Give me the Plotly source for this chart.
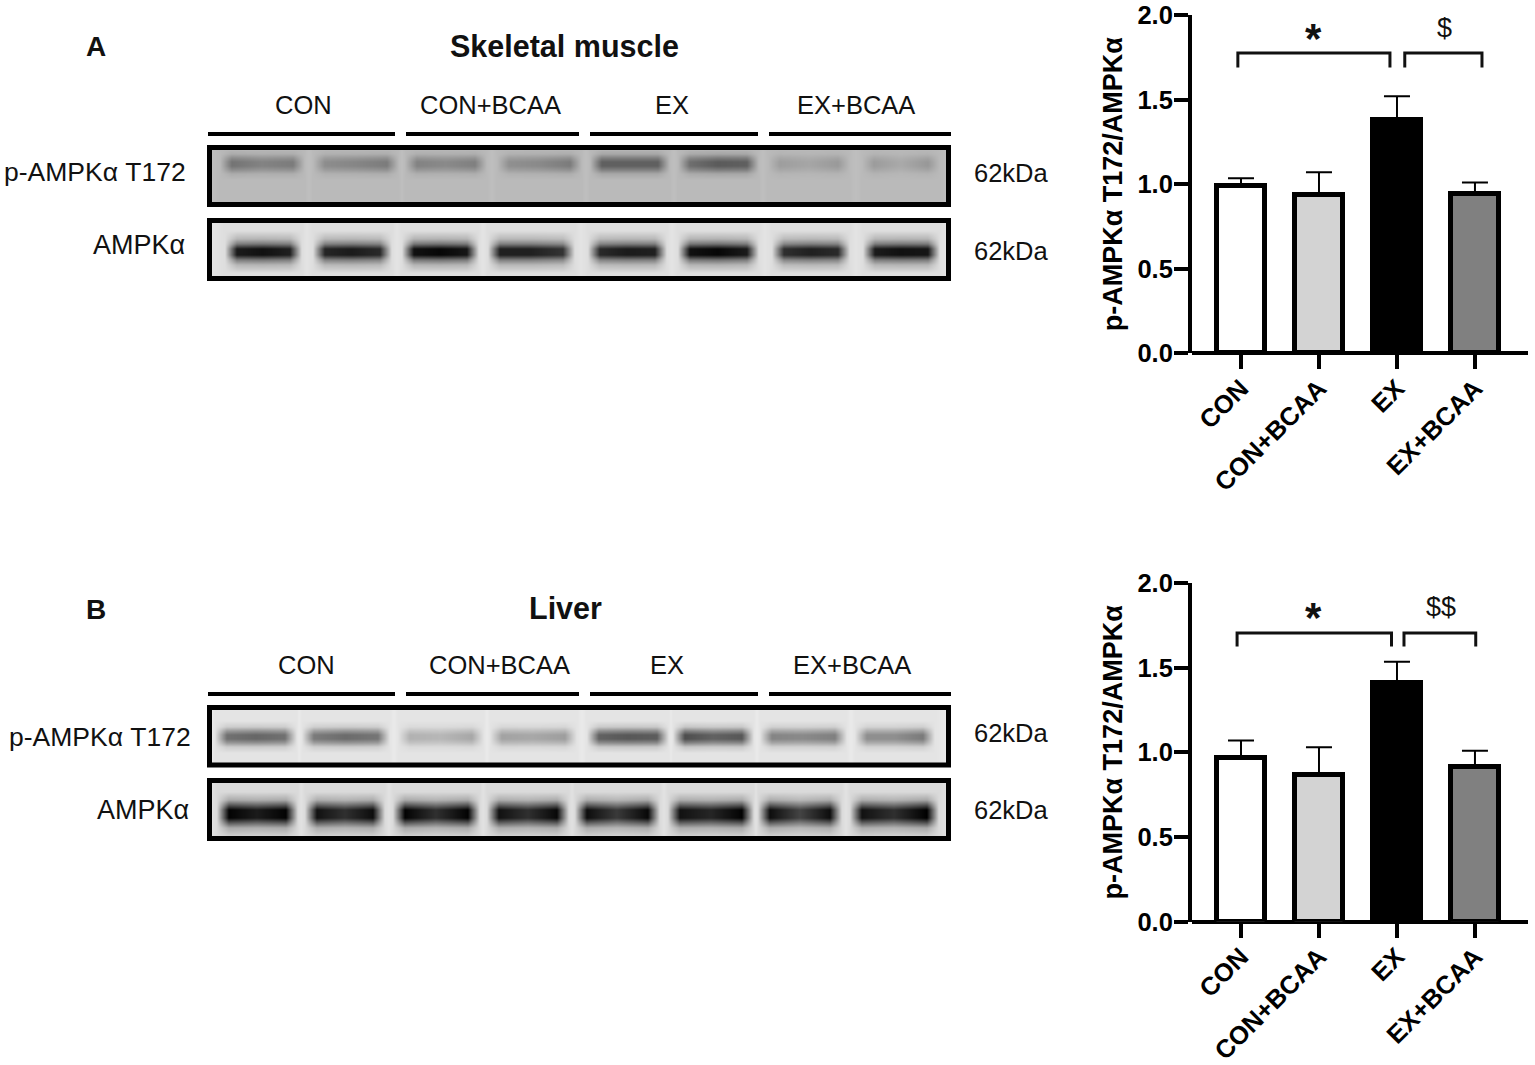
import plotly.graph_objects as go

# ---------- bar chart data ----------
groups = ["CON", "CON+BCAA", "EX", "EX+BCAA"]
y_ticks = [0, 0.5, 1.0, 1.5, 2.0]
bar_colors = ["#ffffff", "#d3d3d3", "#000000", "#808080"]
muscle_means = [0.987, 0.934, 1.382, 0.94]
muscle_tops = [1.035, 1.07, 1.52, 1.01]
liver_means = [0.968, 0.867, 1.412, 0.916]
liver_tops = [1.07, 1.03, 1.535, 1.01]

muscle_br1_x = [-0.04, -0.04, 1.91, 1.91]
muscle_br2_x = [2.10, 2.10, 3.09, 3.09]
muscle_br_y = [1.69, 1.775, 1.775, 1.69]
liver_br1_x = [-0.05, -0.05, 1.93, 1.93]
liver_br2_x = [2.09, 2.09, 3.01, 3.01]
liver_br_y = [1.625, 1.705, 1.705, 1.625]

# ---------- blot data: band darkness per lane (left, middle, right) ----------
muscle_p_bands = [(70, 55, 62), (45, 52, 62), (55, 48, 58), (42, 48, 62), (90, 90, 90), (75, 95, 90), (28, 20, 32), (30, 16, 34)]
muscle_t_bands = [(195, 205, 190), (185, 195, 180), (205, 215, 200), (190, 190, 170), (180, 195, 190), (205, 215, 195), (175, 190, 180), (195, 205, 200)]
liver_p_bands = [(115, 125, 115), (105, 120, 110), (50, 45, 60), (65, 60, 70), (130, 140, 135), (150, 130, 140), (95, 90, 100), (85, 85, 105)]
liver_t_bands = [(215, 190, 215), (200, 170, 205), (215, 170, 215), (200, 170, 210), (205, 160, 210), (200, 180, 215), (205, 150, 205), (200, 170, 225)]

# lane extents (page px)
muscle_p_lanes = [(225, 298), (318, 392), (410, 480), (502, 575), (595, 663), (683, 752), (773, 843), (867, 933)]
muscle_t_lanes = [(230, 295), (318, 385), (407, 472), (493, 568), (593, 660), (683, 752), (777, 843), (868, 933)]
liver_p_lanes = [(220, 290), (307, 383), (403, 477), (495, 570), (592, 662), (678, 747), (765, 840), (860, 928)]
liver_t_lanes = [(222, 291), (310, 378), (398, 473), (492, 562), (580, 653), (673, 747), (763, 835), (855, 932)]

thin_offsets = [-16, -10, -6, -2, 2, 6, 10, 16]
thin_profile = [0.0, 0.2, 0.65, 1.0, 1.0, 0.65, 0.2, 0.0]
thick_offsets = [-21, -13, -8, -3, 3, 8, 13, 21]
thick_profile = [0.0, 0.2, 0.5, 1.0, 1.0, 0.5, 0.2, 0.0]
heavy_offsets = [-22, -14, -9, -4, 4, 9, 14, 22]
heavy_profile = [0.0, 0.22, 0.6, 1.0, 1.0, 0.6, 0.22, 0.05]

FONT = "Liberation Sans"
fig = go.Figure()


def blot(lanes, bands, bg_lane, bg_gap, box, centre, offsets, profile):
    x0, x1, y0, y1 = box
    xs, bg, strength = [x0, x0 + 1], [bg_gap, bg_gap], [0, 0]
    for i, ((a, b), (l, m, r)) in enumerate(zip(lanes, bands)):
        xs += [a - 6, a + 6, (a + b) / 2, b - 6, b + 6]
        bg += [bg_lane] * 5
        strength += [0, l, m, r, 0]
        if i < len(lanes) - 1:
            xs.append((b + lanes[i + 1][0]) / 2)
            bg.append(bg_gap)
            strength.append(0)
    xs += [x1 - 1, x1]
    bg += [bg_gap, bg_gap]
    strength += [0, 0]
    ys = [y0, y0 + 1] + [centre + o for o in offsets] + [y1 - 1, y1]
    prof = [0.0, 0.0] + list(profile) + [0.0, 0.0]
    z = [[max(g - s * p, 0) for g, s in zip(bg, strength)] for p in prof]
    fig.add_trace(go.Heatmap(x=xs, y=ys, z=z, zmin=0, zmax=255, zsmooth="best", showscale=False,
                             colorscale=[[0, "#000000"], [1, "#ffffff"]], hoverinfo="skip",
                             xaxis="x", yaxis="y"))


blot(muscle_p_lanes, muscle_p_bands, 186, 191, (210, 948, 149, 204), 163, thin_offsets, thin_profile)
blot(muscle_t_lanes, muscle_t_bands, 222, 228, (210, 948, 221, 278), 251, thick_offsets, thick_profile)
blot(liver_p_lanes, liver_p_bands, 228, 234, (210, 948, 709, 765), 736, thin_offsets, thin_profile)
blot(liver_t_lanes, liver_t_bands, 218, 226, (210, 948, 782, 838), 813, heavy_offsets, heavy_profile)

# ---------- bars ----------
for ax, means, tops, br1, br2, br_y in [
    ("2", muscle_means, muscle_tops, muscle_br1_x, muscle_br2_x, muscle_br_y),
    ("3", liver_means, liver_tops, liver_br1_x, liver_br2_x, liver_br_y),
]:
    fig.add_trace(go.Bar(
        x=list(range(4)), y=means, width=0.61, xaxis="x" + ax, yaxis="y" + ax,
        marker=dict(color=bar_colors, line=dict(color="#000000", width=5)),
        error_y=dict(type="data", symmetric=False, array=[t - m for t, m in zip(tops, means)],
                     arrayminus=[0, 0, 0, 0], color="#000000", thickness=2, width=13),
        hoverinfo="skip"))
    for bx in (br1, br2):
        fig.add_trace(go.Scatter(x=bx, y=br_y, mode="lines", xaxis="x" + ax, yaxis="y" + ax,
                                 line=dict(color="#111111", width=3), hoverinfo="skip"))

W, H = 1535, 1065


def bar_axes(top_px, bottom_px, xa, ya):
    return {
        xa: dict(domain=[1192 / W, 1528 / W], range=[-0.628, 3.68], anchor=ya.replace("axis", ""), automargin=False,
                 tickvals=list(range(4)), ticktext=groups, tickangle=-45, ticks="outside", ticklen=15, tickwidth=4,
                 tickcolor="#000", showline=False, showgrid=False, zeroline=False, ticklabelstandoff=-6,
                 tickfont=dict(family=FONT, size=25.5, color="#000", weight="bold")),
        ya: dict(domain=[1 - bottom_px / H, 1 - top_px / H], range=[0, 2], anchor=xa.replace("axis", ""), automargin=False,
                 tickvals=y_ticks, tickformat=".1f", ticks="outside", ticklen=14, tickwidth=4,
                 tickcolor="#000", showline=True, linecolor="#000", linewidth=4, showgrid=False,
                 zeroline=True, zerolinecolor="#000", zerolinewidth=4, ticklabelstandoff=-4,
                 tickfont=dict(family=FONT, size=25.5, color="#000", weight="bold"),
                 title=dict(text="p-AMPKα T172/AMPKα", standoff=8,
                            font=dict(family=FONT, size=27, color="#000", weight="bold"))),
    }


layout = dict(
    width=W, height=H, margin=dict(l=0, r=0, t=0, b=0), paper_bgcolor="#fff", plot_bgcolor="rgba(0,0,0,0)",
    showlegend=False, bargap=0,
    xaxis=dict(domain=[0, 1], range=[0, W], visible=False, fixedrange=True),
    yaxis=dict(domain=[0, 1], range=[H, 0], visible=False, fixedrange=True),
)
layout.update(bar_axes(15, 353.3, "xaxis2", "yaxis2"))
layout.update(bar_axes(583, 921.7, "xaxis3", "yaxis3"))

shapes = []
for box in [(209.5, 948.5, 147.5, 204.5), (209.5, 948.5, 220.5, 278.5), (209.5, 948.5, 707.5, 765), (209.5, 948.5, 780.5, 838.5)]:
    shapes.append(dict(type="rect", xref="x", yref="y", x0=box[0], x1=box[1], y0=box[2], y1=box[3],
                       line=dict(color="#000", width=5), layer="above"))
for yy in (134, 694):
    for a, b in [(208, 395), (406, 579), (590, 758), (769, 951)]:
        shapes.append(dict(type="line", xref="x", yref="y", x0=a, x1=b, y0=yy, y1=yy, line=dict(color="#000", width=4)))
layout["shapes"] = shapes


def note(text, x, y, size=25.5, bold=False, anchor="center"):
    return dict(text=text, x=x, y=y, xref="x", yref="y", showarrow=False, xanchor=anchor, yanchor="middle",
                font=dict(family=FONT, size=size, color="#111", weight="bold" if bold else "normal"))


notes = [
    note("A", 96, 46, 28, True), note("B", 96, 609, 28, True),
    note("Skeletal muscle", 564, 46, 30.5, True), note("Liver", 565, 608, 30.5, True),
]
for lab, xx in zip(groups, (303, 490, 672, 856)):
    notes.append(note(lab, xx, 105))
for lab, xx in zip(groups, (306, 499, 667, 852)):
    notes.append(note(lab, xx, 665))
notes += [
    note("p-AMPKα T172", 188, 172, 26.5, anchor="right"), note("AMPKα", 187, 245, 27, anchor="right"),
    note("p-AMPKα T172", 193, 737, 26.5, anchor="right"), note("AMPKα", 191, 810, 27, anchor="right"),
]
for yy in (173, 251, 733, 810):
    notes.append(note("62kDa", 1011, yy))
notes += [
    note("*", 1313, 38, 42, True), note("$", 1444, 28, 27),
    note("*", 1313, 617, 42, True), note("$$", 1441, 607, 27),
]
layout["annotations"] = notes

fig.update_layout(**layout)
fig.write_html("out.html", config={"displayModeBar": False}, post_script="document.body.style.margin='0';")
